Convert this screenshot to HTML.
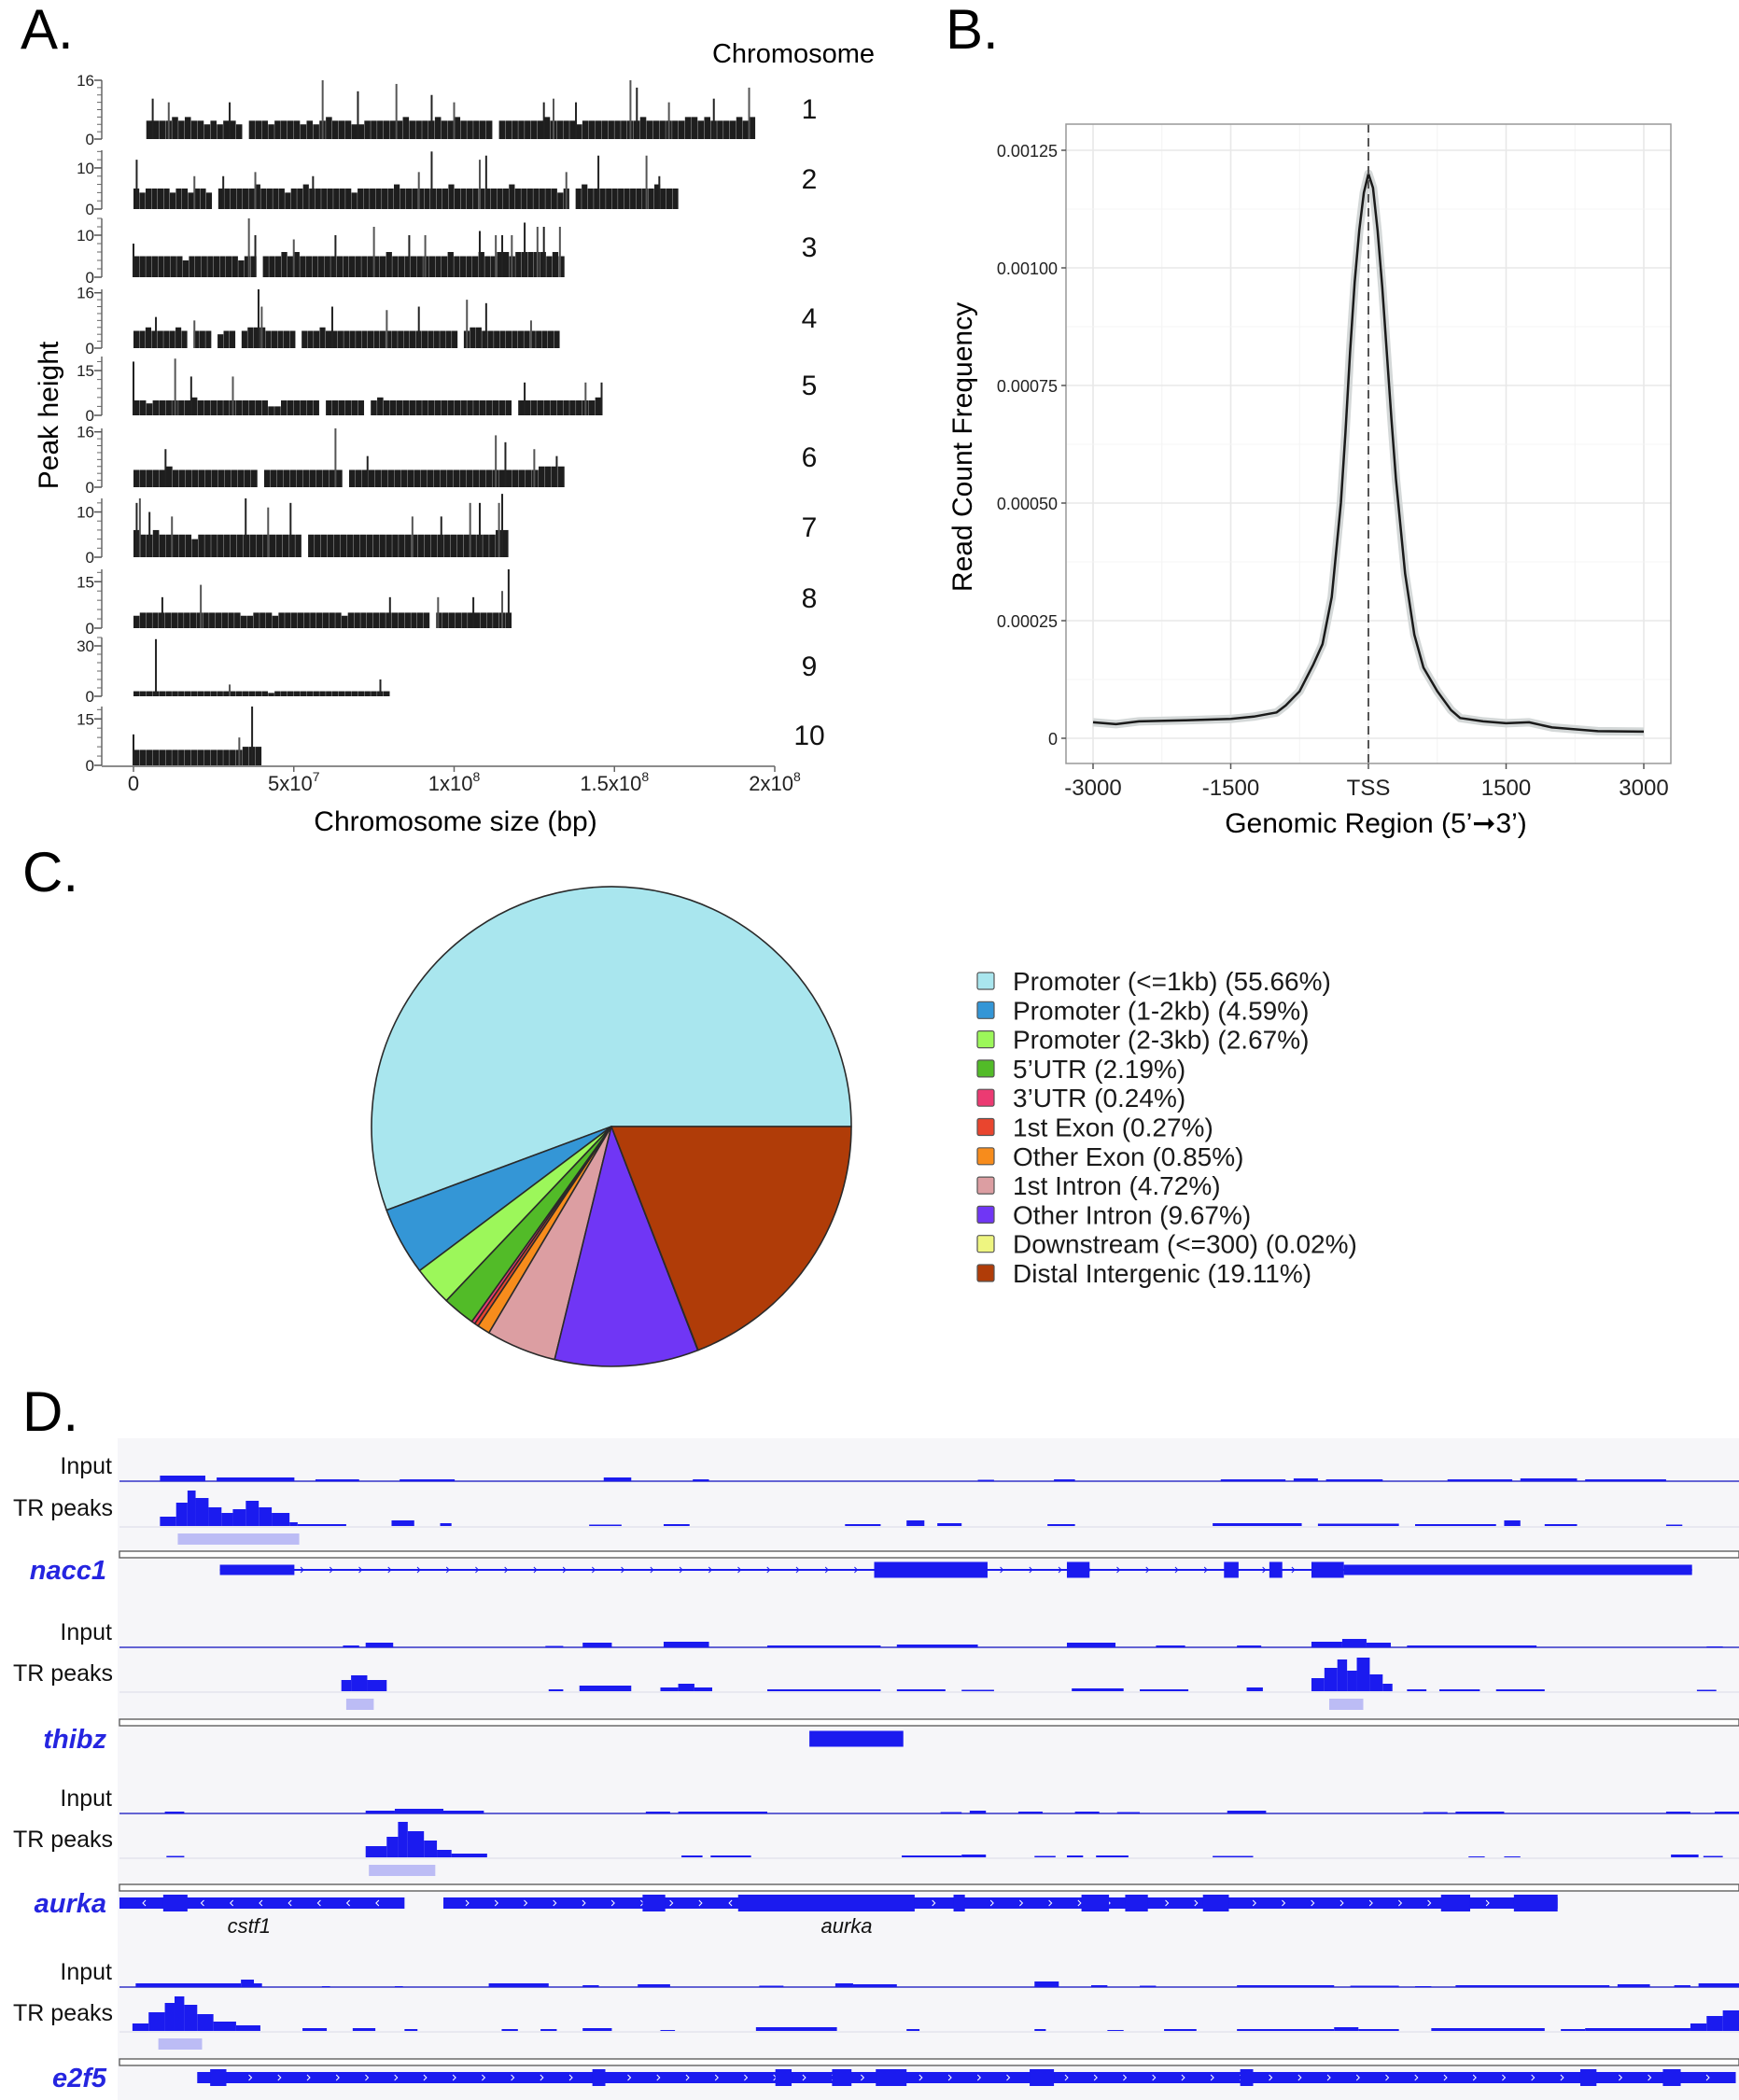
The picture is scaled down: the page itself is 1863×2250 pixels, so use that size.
<!DOCTYPE html>
<html><head><meta charset="utf-8">
<style>
html,body{margin:0;padding:0;background:#fff;}
svg{display:block;font-family:"Liberation Sans",Arial,sans-serif;}
</style></head>
<body>
<svg id="fig" width="1863" height="2250" viewBox="0 0 1863 2250" xmlns="http://www.w3.org/2000/svg">
<rect x="0" y="0" width="1863" height="2250" fill="#fff"/>
<text x="22" y="52" font-size="60">A.</text>
<text x="1013" y="52" font-size="60">B.</text>
<text x="24" y="955" font-size="60">C.</text>
<text x="24" y="1533" font-size="60">D.</text>
<text x="850" y="67" font-size="29" text-anchor="middle">Chromosome</text>
<text x="488" y="890" font-size="30" text-anchor="middle">Chromosome size (bp)</text>
<text transform="translate(62,445) rotate(-90)" font-size="30" text-anchor="middle">Peak height</text>
<text transform="translate(1041,479) rotate(-90)" font-size="30" text-anchor="middle">Read Count Frequency</text>
<text x="1474" y="892" font-size="30" text-anchor="middle">Genomic Region (5’➞3’)</text>
<g id="gA"></g>
<g id="gB"></g>
<g id="gC"></g>
<g id="gD"></g>
</svg>
<script>
// ---------- Panel A data ----------
const chromNames = ['1','2','3','4','5','6','7','8','9','10'];
const chromLengths = [194e6,170e6,134.5e6,133e6,146e6,134.5e6,117e6,118e6,80e6,40e6];
const chromTopTick = [16,10,10,16,15,16,10,15,30,15];
const chromAxisMax = [16,14.3,14,17,19.7,17,13,19,35,19];
const chromBase = [
 "0055556565545455405554555545456555445555556555565565555505555555655554555555555655555566565555656",
 "545555455455405555556555545565555555455555565555555565555555556555555545056555555555556555",
 "5555555545555555545505556565555555555555565555555556555565566566666565",
 "55655556505550455056665555505556555555555555555555555505665555555555555",
 "5545555556555555555553355555505555550565555555555555555555505555555555556",
 "555556555555555555505555555555550555555555555555555555555555556666",
 "6556555554555555555555555505555555555555555555555555555566",
 "455555555555555554455545555555555455555555555550555555555555",
 "3333333333333333333332333333333333333333",
 "55555555555555555666"
];
const chromSpikesPos = [
 [6,11,30,59,70,82,93,100,128,131,138,155,157,167,181,192],
 [1,19,28,38,56,89,93,108,110,135,145,160,164],
 [0,36,38,50,63,75,86,91,108,113,115,118,122,126,128,133],
 [7,19,39,40,62,79,89,104,110,124],
 [0,13,18,31,122,141,146],
 [10,63,73,113,116,125,132],
 [1,2,5,12,35,42,49,87,96,105,108,114,115],
 [9,21,80,95,106,115,117],
 [7,30,77],
 [0,33,37]
];
const chromSpikesH = [
 [11,10,10,16,13,15,12,10,10,11,10,16,14,10,11,14],
 [12,8,8,9,8,9,14,12,13,9,13,13,8],
 [8,14,10,9,10,12,10,10,11,10,10,10,13,12,12,12],
 [9,8,17,12,12,11,12,14,13,8],
 [18,19,13,13,11,11,11],
 [11,17,9,15,13,11,9],
 [12,13,10,9,13,11,12,9,9,12,12,12,14],
 [10,14,10,10,10,12,19],
 [34,7,10],
 [10,9,19]
];
const xTickVals = [0,5e7,1e8,1.5e8,2e8];
const xTickMant = ['0','5x10','1x10','1.5x10','2x10'];
const xTickExp = ['','7','8','8','8'];

// ---------- Panel B data ----------
const profileX = [-3000,-2750,-2500,-2000,-1500,-1250,-1000,-900,-750,-600,-500,-400,-300,-250,-200,-150,-100,-50,0,50,100,150,200,250,300,400,500,600,750,900,1000,1250,1500,1750,2000,2500,3000];
const profileY = [3.4,3.0,3.6,3.8,4.1,4.6,5.5,7,10,15.7,20,30,50,65,82,97,108,116,120,117,108,96,82,68,55,35,22,15,10,6,4.3,3.6,3.2,3.4,2.3,1.5,1.4];
const bYTicks = [0,25,50,75,100,125];
const bYLabels = ['0','0.00025','0.00050','0.00075','0.00100','0.00125'];
const bXTicks = [-3000,-1500,0,1500,3000];
const bXLabels = ['-3000','-1500','TSS','1500','3000'];

// ---------- Panel C data ----------
const pieLabels = ['Promoter (<=1kb)','Promoter (1-2kb)','Promoter (2-3kb)','5’UTR','3’UTR','1st Exon','Other Exon','1st Intron','Other Intron','Downstream (<=300)','Distal Intergenic'];
const pieValues = [55.66,4.59,2.67,2.19,0.24,0.27,0.85,4.72,9.67,0.02,19.11];
const pieColors = ['#a9e6ee','#3496d6','#9cf75a','#52bb28','#ec3a72','#e9452e','#f78c1c','#dc9ea2','#7036f5','#eef580','#b03c08'];

// ---------- Panel D data ----------
const trackBases = [[1587,1635],[1765,1812],[1943,1990],[2129,2176]];
const inputSegs = [
 [[2.5,5.3,6],[6,10.8,4],[12.1,14.8,2],[17.3,20.7,2],[29.9,31.6,4],[35.4,36.4,2],[53,54,1.5],[57.7,59,2],[68,72,2],[72.5,74,3],[74.5,78,2],[82,86,2],[86.5,90,3],[90.5,95.5,2]],
 [[13.8,14.8,2],[15.2,16.9,5],[26.3,27.4,1.5],[28.6,30.4,5],[33.6,36.4,6],[40,47,2],[48,53,3],[58.5,61.5,5],[64,65.8,2],[69,70.5,2],[73.6,75.5,6],[75.5,77,9],[77,78.5,5],[79.5,87.5,2],[98,99,1]],
 [[2.8,4,2],[15.2,17,3],[17,20,5],[20,22.5,3],[32.5,34,2],[34.5,40,2],[50.7,52,1.5],[52.5,53.5,3],[55.5,57,2],[59,60.5,2],[61.6,63,1.5],[68.4,70.8,3],[80.5,82,1.5],[82.5,85.5,2],[95.5,97,2],[98.5,100,2]],
 [[1,7.5,4],[7.5,8.3,8],[8.3,8.8,4],[12.5,13,1],[17,17.5,1],[22.8,26.5,4],[28.6,29.6,2],[32,34,3],[39.5,41,1.5],[44.2,45.3,4],[45.3,48,3],[56.5,58,6],[60,61,2],[63,64,1.5],[69,75,2],[76,79,1.5],[80,81,1],[82.5,92,2],[92.5,94.5,3],[96,97,2],[97.5,100,4]]
];
const peakSegs = [
 [[2.5,3.5,10],[3.5,4.2,25],[4.2,4.7,38],[4.7,5.5,30],[5.5,6.3,20],[6.3,7,14],[7,7.8,18],[7.8,8.6,27],[8.6,9.4,20],[9.4,10.5,14],[10.5,11,4],[11,14,2],[16.8,18.2,6],[19.8,20.5,3],[29,31,1.5],[33.6,35.2,2],[44.8,47,2],[48.6,49.7,6],[50.5,52,3],[57.3,59,2],[67.5,73,3],[74,79,2.5],[80,85,2],[85.5,86.5,6],[88,90,2],[95.5,96.5,1.5]],
 [[13.7,14.3,12],[14.3,15.3,17],[15.3,16.5,12],[26.5,27.4,2],[28.4,31.6,6],[33.4,34.5,4],[34.5,35.5,8],[35.5,36.6,4],[40,47,2],[48,51,2],[52,54,1.5],[58.8,62,3],[63,66,2],[69.6,70.6,4],[73.6,74.4,14],[74.4,75.2,25],[75.2,75.8,34],[75.8,76.4,22],[76.4,77.2,36],[77.2,78,18],[78,78.6,8],[79.5,80.7,2],[81.5,84,2],[85,88,2],[97.4,98.6,1.5]],
 [[2.9,4,1.5],[15.2,16.5,12],[16.5,17.2,22],[17.2,17.8,38],[17.8,18.8,28],[18.8,19.6,18],[19.6,20.5,8],[20.5,22.7,4],[34.7,36,2],[36.5,39,2],[48.3,52,2],[52,53.5,3],[56.5,57.8,1.5],[58.5,59.5,2],[60.3,62.3,2],[67.5,70,1.5],[83.3,84.3,1],[85.5,86.5,1],[95.8,97.5,3],[97.8,99,1.5]],
 [[0.8,1.8,8],[1.8,2.8,20],[2.8,3.4,30],[3.4,4,37],[4,4.8,28],[4.8,5.8,18],[5.8,7.2,10],[7.2,8.7,6],[11.3,12.8,3],[14.4,15.8,3],[17.6,18.4,2],[23.6,24.6,2],[26,27,2],[28.6,30.4,3],[33.4,34.3,1],[39.3,44.3,4],[48.6,49.4,2],[56.5,57.2,2],[61,62,1],[64.5,66.5,2],[69,75,2],[75,76.5,4],[76.5,79,2],[81,88,3],[89,90.5,2],[90.5,97,3],[97,98,8],[98,99,16],[99,100,22]]
];
const peakCalls = [[[3.6,11.1]],[[14,15.7],[74.7,76.8]],[[15.4,19.5]],[[2.4,5.1]]];
const geneNames = ['nacc1','thibz','aurka','e2f5'];
const geneRowY = [1682,1863,2039,2226];
const sepY = [1664,1844,2021,2208];
const geneLines = [[[6.2,97.1]],[],[[0,17.6],[20,88.8]],[[4.8,99.8]]];
const geneLineThick = [2,0,12,12];
const geneBlocks = [
 [[6.2,10.8,11],[46.6,53.6,17],[58.5,59.9,17],[68.2,69.1,17],[71,71.8,17],[73.6,75.6,17],[75.6,97.1,11]],
 [[42.6,48.4,17]],
 [[2.7,4.2,18],[32.3,33.7,18],[38.2,49.1,18],[51.5,52.2,18],[59.4,61.1,18],[62.1,63.5,18],[66.9,68.5,18],[81.6,83.4,18],[86.1,88.8,18]],
 [[5.6,6.6,18],[29.2,30,18],[40.5,41.5,18],[44,45.2,18],[46.7,48.6,18],[56.2,57.7,18],[69.2,70,18],[90.2,91.2,18],[95.3,96.4,18]]
];
const subGeneLabels = ['cstf1','aurka'];
const subGenePos = [8,44.9];

const NS='http://www.w3.org/2000/svg';
function mk(parent,tag,attrs,txt){const e=document.createElementNS(NS,tag);for(const k in attrs)e.setAttribute(k,attrs[k]);if(txt!==undefined)e.textContent=txt;parent.appendChild(e);return e;}

// ===== Panel A =====
(function(){
 const g=document.getElementById('gA');
 const x0=143,x1=830;
 const xa=v=>x0+v/2e8*(x1-x0);
 const zeroY=[149,224,297,373,445,522,597,673,746,820];
 const H=63;
 chromNames.forEach((nm,i)=>{
  const z=zeroY[i], mx=chromAxisMax[i];
  const ya=v=>z-v/mx*H;
  const ax=mk(g,'line',{x1:109,y1:z,x2:109,y2:z-H,stroke:'#666','stroke-width':1.5});
  
  
  const step=chromTopTick[i]>=30?5:(chromTopTick[i]===15?3:2);
  for(let v=0;v<=mx;v+=step){
   const t=mk(g,'line',{x1:104,y1:ya(v),x2:109,y2:ya(v),stroke:'#666','stroke-width':1});
   
   
  }
  [0,chromTopTick[i]].forEach(v=>{
   const t=mk(g,'line',{x1:101,y1:ya(v),x2:109,y2:ya(v),stroke:'#555','stroke-width':1.5});
   
   
   const l=mk(g,'text',{x:101,y:ya(v)+6,'font-size':17,'text-anchor':'end',fill:'#222'},String(v));
   
   
  });
  const s=chromBase[i], bw=chromLengths[i]/s.length;
  for(let k=0;k<s.length;k++){
   const v=+s[k]; if(!v) continue;
   const r=mk(g,'rect',{x:xa(k*bw),y:ya(v),width:Math.max(1,xa((k+1)*bw)-xa(k*bw)-0.3),height:z-ya(v),fill:'#1e1e1e'});
   
   
  }
  chromSpikesPos[i].forEach((p,j)=>{
   const sp=mk(g,'line',{x1:xa(p*1e6),y1:z,x2:xa(p*1e6),y2:ya(chromSpikesH[i][j]),stroke:j%2?'#555':'#222','stroke-width':2});
   
   
  });
  const lab=mk(g,'text',{x:867,y:z-22,'font-size':30,'text-anchor':'middle',fill:'#111'},nm);
  
  
 });
 const xl=mk(g,'line',{x1:109,y1:821,x2:830,y2:821,stroke:'#666','stroke-width':1.5});
 
 
 xTickVals.forEach((v,i)=>{
  const t=mk(g,'line',{x1:xa(v),y1:821,x2:xa(v),y2:827,stroke:'#666','stroke-width':1.5});
  
  
  const tx=mk(g,'text',{x:xa(v),y:847,'font-size':22,'text-anchor':'middle',fill:'#222'});
  
  
  mk(tx,'tspan',{},xTickMant[i]);
  if(xTickExp[i]) mk(tx,'tspan',{dy:-10,'font-size':14},xTickExp[i]);
 });
})();

// ===== Panel B =====
(function(){
 const g=document.getElementById('gB');
 const L=1142,R=1790,T=133,B=818;
 const xb=v=>1171+(v+3000)/6000*(1761-1171);
 const yb=v=>791-v/125*(791-161);
 for(let v=-3750;v<=3750;v+=750){const x=xb(v);if(x<L||x>R)continue;
  const gl=mk(g,'line',{x1:x,y1:T,x2:x,y2:B,stroke:(v%1500===0)?'#e8e8e8':'#f4f4f4','stroke-width':(v%1500===0)?1.6:1});
  
  }
 for(let v=-12.5;v<=137.5;v+=12.5){const y=yb(v);if(y<T||y>B)continue;
  const gl=mk(g,'line',{x1:L,y1:y,x2:R,y2:y,stroke:(v%25===0)?'#e8e8e8':'#f4f4f4','stroke-width':(v%25===0)?1.6:1});
  
  }
 const pts=profileX.map((x,i)=>xb(x).toFixed(1)+','+yb(profileY[i]).toFixed(1)).join(' ');
 const band=mk(g,'polyline',{points:pts,fill:'none',stroke:'#d4d8d8','stroke-width':9,'stroke-linejoin':'round'});
 
 
 const ln=mk(g,'polyline',{points:pts,fill:'none',stroke:'#1a1a1a','stroke-width':2.5,'stroke-linejoin':'round'});
 
 
 const ds=mk(g,'line',{x1:xb(0),y1:T,x2:xb(0),y2:B,stroke:'#555','stroke-width':2,'stroke-dasharray':'9,6'});
 
 
 const fr=mk(g,'rect',{x:L,y:T,width:R-L,height:B-T,fill:'none',stroke:'#999','stroke-width':1.5});
 
 
 bYTicks.forEach((v,i)=>{
  const t=mk(g,'line',{x1:L-5,y1:yb(v),x2:L,y2:yb(v),stroke:'#555','stroke-width':1.5});
  
  
  const l=mk(g,'text',{x:L-9,y:yb(v)+7,'font-size':18,'text-anchor':'end',fill:'#222'},bYLabels[i]);
  
  
 });
 bXTicks.forEach((v,i)=>{
  const t=mk(g,'line',{x1:xb(v),y1:B,x2:xb(v),y2:B+6,stroke:'#555','stroke-width':1.5});
  
  
  const l=mk(g,'text',{x:xb(v),y:B+34,'font-size':24,'text-anchor':'middle',fill:'#222'},bXLabels[i]);
  
  
 });
})();

// ===== Panel C =====
(function(){
 const g=document.getElementById('gC');
 const cx=655,cy=1207,r=257;
 const tot=pieValues.reduce((a,b)=>a+b,0);
 let a0=0;
 pieValues.forEach((v,i)=>{
  const a1=a0+v/tot*2*Math.PI;
  const p0=[cx+r*Math.cos(a0),cy-r*Math.sin(a0)], p1=[cx+r*Math.cos(a1),cy-r*Math.sin(a1)];
  const large=(a1-a0)>Math.PI?1:0;
  const d=`M${cx},${cy} L${p0[0].toFixed(2)},${p0[1].toFixed(2)} A${r},${r} 0 ${large} 0 ${p1[0].toFixed(2)},${p1[1].toFixed(2)} Z`;
  const s=mk(g,'path',{d:d,fill:pieColors[i],stroke:'#2a2a2a','stroke-width':1.6,'stroke-linejoin':'round'});
  
  
  a0=a1;
  const y=1051+i*31.3;
  const b=mk(g,'rect',{x:1047,y:y-9,width:18,height:18,fill:pieColors[i],stroke:'#555','stroke-width':1.2,rx:2});
  
  
  const t=mk(g,'text',{x:1085,y:y+10,'font-size':28,fill:'#1a1a1a'},pieLabels[i]+' ('+v.toFixed(2)+'%)');
  
  
 });
})();

// ===== Panel D =====
(function(){
 const g=document.getElementById('gD');
 const X0=128,W=1735;
 const xd=p=>X0+p/100*W;
 const bg=mk(g,'rect',{x:126,y:1541,width:1737,height:709,fill:'#f6f6f9'});
 
 
 const blue='#1b1bef';
 trackBases.forEach((bs,i)=>{
  const [bi,bt]=bs;
  const lab1=mk(g,'text',{x:120,y:bi-8,'font-size':25,'text-anchor':'end',fill:'#111'},'Input');
  
  
  const lab2=mk(g,'text',{x:121,y:bt-11,'font-size':25,'text-anchor':'end',fill:'#111'},'TR peaks');
  
  
  const l1=mk(g,'line',{x1:X0,y1:bi,x2:1863,y2:bi,stroke:'#3434c8','stroke-width':1.6});
  
  
  const l2=mk(g,'line',{x1:X0,y1:bt+1,x2:1863,y2:bt+1,stroke:'#e4e4ee','stroke-width':1.5});
  
  
  inputSegs[i].forEach(s=>{
   const r=mk(g,'rect',{x:xd(s[0]),y:bi-s[2],width:xd(s[1])-xd(s[0]),height:s[2],fill:blue});
   
   
  });
  peakSegs[i].forEach(s=>{
   const r=mk(g,'rect',{x:xd(s[0]),y:bt-s[2],width:xd(s[1])-xd(s[0]),height:s[2],fill:blue});
   
   
  });
  peakCalls[i].forEach(s=>{
   const r=mk(g,'rect',{x:xd(s[0]),y:bt+8,width:xd(s[1])-xd(s[0]),height:12,fill:'#bcbcf5'});
   
   
  });
  const sy=sepY[i];
  const sep=mk(g,'rect',{x:X0,y:sy-2,width:W,height:7,fill:'#fff',stroke:'#555','stroke-width':1.3});
  
  
  const gy=geneRowY[i];
  const gl=mk(g,'text',{x:114,y:gy+10,'font-size':29,'font-weight':'bold','font-style':'italic','text-anchor':'end',fill:'#2525e0'},geneNames[i]);
  
  
  geneLines[i].forEach(s=>{
   const th=geneLineThick[i];
   const r=mk(g,'rect',{x:xd(s[0]),y:gy-th/2,width:xd(s[1])-xd(s[0]),height:th,fill:blue});
   
   
   for(let p=s[0]+1.5;p<s[1]-0.5;p+=1.8){
    const x=xd(p), left=(i===2&&s[0]===0)||(i===2&&p>37&&p<50);
    const c=mk(g,'polyline',{points:left?`${x+2},${gy-3} ${x-1},${gy} ${x+2},${gy+3}`:`${x-2},${gy-3} ${x+1},${gy} ${x-2},${gy+3}`,fill:'none',stroke:th>4?'#fff':blue,'stroke-width':1});
    
    
   }
  });
  geneBlocks[i].forEach(s=>{
   const r=mk(g,'rect',{x:xd(s[0]),y:gy-s[2]/2,width:xd(s[1])-xd(s[0]),height:s[2],fill:blue});
   
   
  });
 });
 subGeneLabels.forEach((n,i)=>{
  const t=mk(g,'text',{x:xd(subGenePos[i]),y:2071,'font-size':22,'font-style':'italic','text-anchor':'middle',fill:'#111'},n);
  
  
 });
})();
</script>
</body></html>
